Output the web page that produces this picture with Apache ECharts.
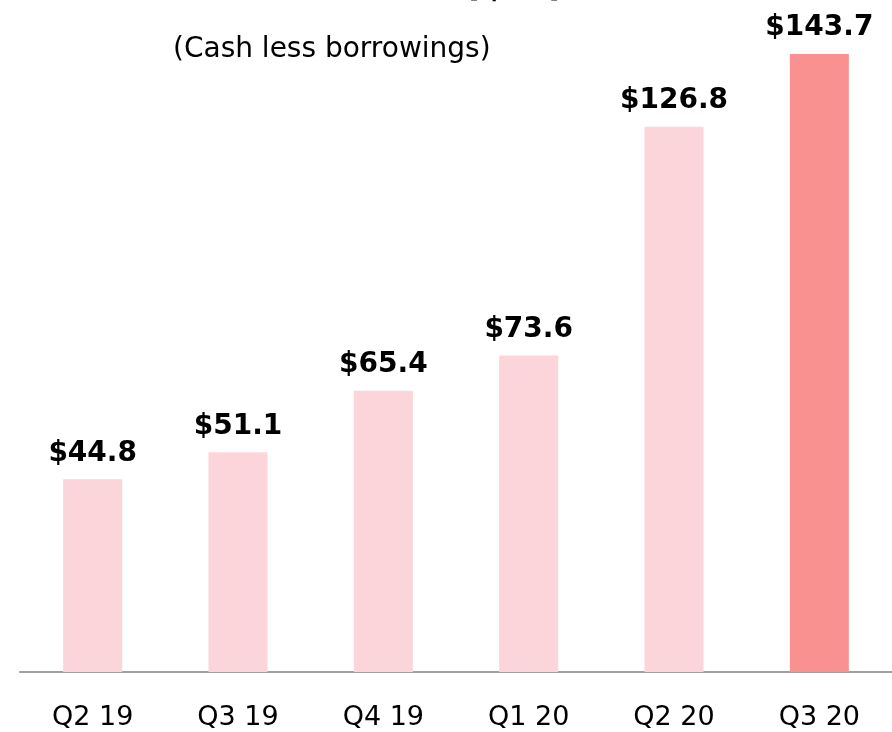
<!DOCTYPE html>
<html>
<head>
<meta charset="utf-8">
<style>
  html, body { margin: 0; padding: 0; background: #fff; }
  #chart { width: 892px; height: 732px; }
</style>
<script src="https://cdn.jsdelivr.net/npm/echarts@6/dist/echarts.min.js"></script>
</head>
<body>
<div id="chart"></div>
<script>
// net cash by quarter ($M)
var quarters = ['Q2 19', 'Q3 19', 'Q4 19', 'Q1 20', 'Q2 20', 'Q3 20'];
var netCash = [44.8, 51.1, 65.4, 73.6, 126.8, 143.7];

var lightColor = '#FBD5D9';
var highlightColor = '#FA9191';

var chart = echarts.init(document.getElementById('chart'));

chart.setOption({
  animation: false,
  textStyle: {
    fontFamily: 'DejaVu Sans',
  },
  grid: {
    left: 20,
    right: 0,
    top: 27,
    bottom: 60,
  },
  graphic: [
    {
      // title is cut off at the top edge of the picture
      type: 'text',
      left: 462,
      top: -35,
      style: {
        text: '($M)',
        font: 'bold 40px "DejaVu Sans"',
        fill: '#000',
      },
    },
    {
      type: 'text',
      left: 173,
      top: 36,
      style: {
        text: '(Cash less borrowings)',
        font: '28px "DejaVu Sans"',
        fill: '#000',
      },
    },
  ],
  xAxis: {
    type: 'category',
    data: quarters,
    axisTick: { show: false },
    axisLine: {
      lineStyle: { color: '#A0A0A0', width: 2 },
    },
    axisLabel: {
      margin: 32,
      fontSize: 27,
      color: '#000',
    },
  },
  yAxis: {
    type: 'value',
    min: 0,
    max: 150,
    show: false,
  },
  series: [
    {
      type: 'bar',
      barWidth: 59,
      data: netCash.map(function (v, i) {
        return {
          value: v,
          itemStyle: { color: i === netCash.length - 1 ? highlightColor : lightColor },
        };
      }),
      label: {
        show: true,
        position: 'top',
        distance: 12,
        fontSize: 28,
        fontWeight: 'bold',
        color: '#000',
        formatter: function (p) {
          return '$' + p.value.toFixed(1);
        },
      },
    },
  ],
});
</script>
</body>
</html>
